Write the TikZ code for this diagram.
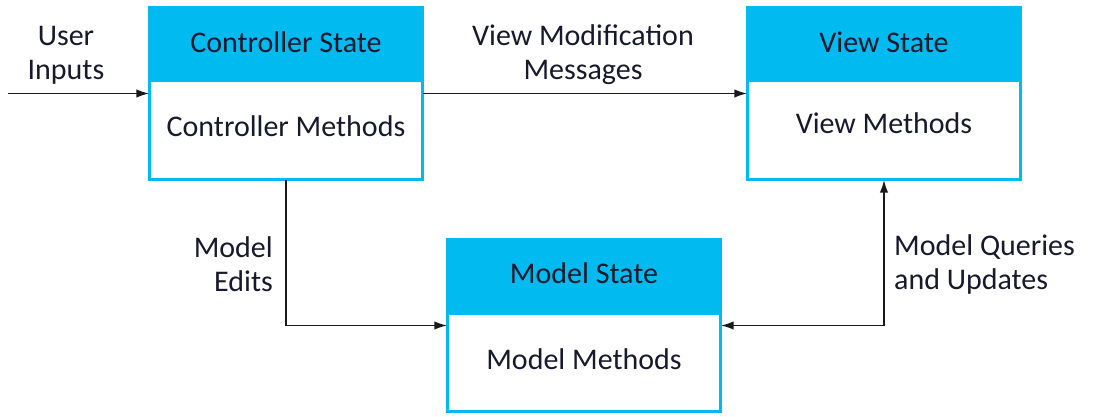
\documentclass[tikz,border=0pt]{standalone}
\usepackage{fontspec}
\setmainfont{Carlito}
\usetikzlibrary{arrows.meta,calc}
\definecolor{boxcyan}{RGB}{0,186,240}
\definecolor{txt}{RGB}{25,25,45}
\begin{document}
\begin{tikzpicture}[x=1pt,y=-1pt,
  font=\fontsize{30}{34}\selectfont,
  boxframe/.style={draw=none,minimum width=273pt,minimum height=172pt,inner sep=0pt},
  border/.style={draw=boxcyan,line width=3pt},
  header/.style={fill=boxcyan},
  lbl/.style={text=txt,inner sep=0pt,anchor=base},
  flowlbl/.style={text=txt,inner sep=0pt},
  conn/.style={draw=black!90,line width=1.9pt,-{Latex[length=13pt,width=8.5pt]}},
  conn2/.style={draw=black!90,line width=1.9pt,{Latex[length=13pt,width=8.5pt]}-{Latex[length=13pt,width=8.5pt]}}
]
\useasboundingbox[fill=white] (0,0) rectangle (1093,416);

% box frames
\node[boxframe] (ctrl) at (286,93.5) {};
\node[boxframe] (view) at (884,93.5) {};
\node[boxframe,minimum height=171pt] (model) at (584,325.5) {};

% headers
\fill[header] (ctrl.north west) rectangle ($(ctrl.north east)+(0,75)$);
\fill[header] (view.north west) rectangle ($(view.north east)+(0,75)$);
\fill[header] (model.north west) rectangle ($(model.north east)+(0,75)$);

% borders
\draw[border] (ctrl.north west) rectangle (ctrl.south east);
\draw[border] (view.north west) rectangle (view.south east);
\draw[border] (model.north west) rectangle (model.south east);

% box texts
\node[lbl] (ctrlstate) at (286,52) {Controller State};
\node[lbl] (ctrlmeth) at (286,136) {Controller Methods};
\node[lbl] (viewstate) at (884,52) {View State};
\node[lbl] (viewmeth) at (884,133) {View Methods};
\node[lbl] (modelstate) at (584,283) {Model State};
\node[lbl] (modelmeth) at (584,369) {Model Methods};

% connector labels
\node[flowlbl,align=center] (userin) at (66,55) {User\\Inputs};
\node[flowlbl,align=center] (vmm) at (583,55) {View Modification\\Messages};
\node[flowlbl,align=right,anchor=east] (medits) at (273,264) {Model\\Edits};
\node[flowlbl,align=left,anchor=west] (mqu) at (894,264) {Model Queries\\and Updates};

% connectors
\coordinate (input) at (8,93.5);
\draw[conn] (input) -- (ctrl.west);
\draw[conn] (ctrl.east) -- (view.west);
\draw[conn] (ctrl.south) |- (model.west);
\draw[conn2] (model.east) -| (view.south);
\end{tikzpicture}
\end{document}
